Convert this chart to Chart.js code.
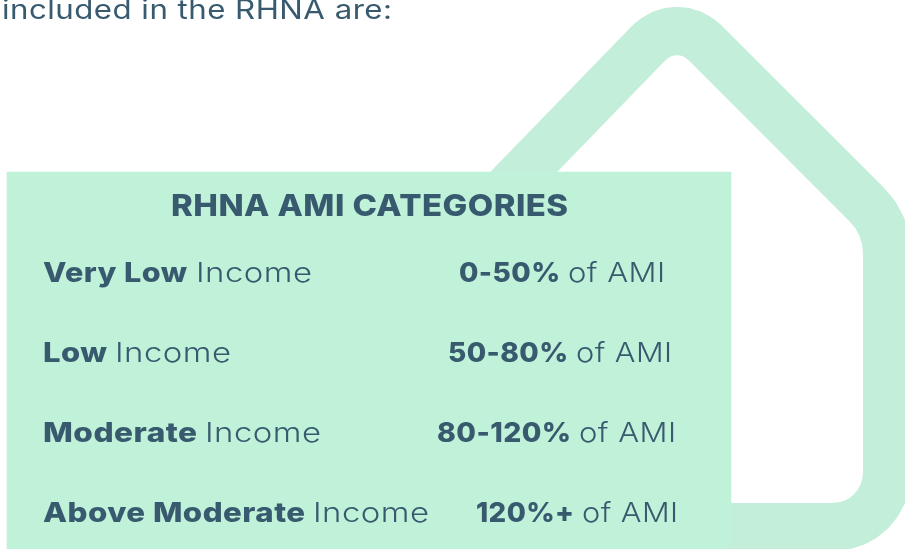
<!DOCTYPE html>
<html>
<head>
<meta charset="utf-8">
<title>RHNA AMI Categories</title>
<script src="https://cdn.jsdelivr.net/npm/chart.js@4"></script>
<style>
  html, body { margin: 0; padding: 0; background: #fff; overflow: hidden; }
  canvas { display: block; }
</style>
</head>
<body>
<canvas id="amiChart" width="905" height="549"></canvas>
<script>
// table contents
const introText = "included in the RHNA are:";
const tableTitle = "RHNA AMI CATEGORIES";
const incomeBold = ["Very Low", "Low", "Moderate", "Above Moderate"];
const incomeRest = ["Income", "Income", "Income", "Income"];
const amiBold = ["0-50%", "50-80%", "80-120%", "120%+"];
const amiRest = ["of AMI", "of AMI", "of AMI", "of AMI"];

// house outline
const houseX = [505, 649.4, 655.3, 662.1, 669.4, 677, 684.6, 691.9, 698.7, 704.6, 867.4, 875.7, 881.9, 885.7, 887, 887, 886, 882.9, 877.9, 871.2, 863, 853.7, 843.5, 833, 700];
const houseY = [191.3, 42.4, 37.6, 34, 31.75, 31, 31.75, 34, 37.6, 42.4, 205.2, 215.4, 227, 239.5, 252.6, 473, 483.5, 493.7, 503, 511.2, 518, 522.9, 526, 527, 527];

// panel behind the table
const panelX = [7, 731];
const panelY = [172, 549];

const textColor = "#385a6f";
const fontName = "Inter, 'Noto Sans', sans-serif";

// text runs go from x0 to x1, the letters get stretched to fit (source font is wider than Inter)
const rowBase = [282, 362, 442, 522];
const incomeBoldX = [[43, 186], [43, 106], [43, 196], [43, 304]];
const incomeRestX = [[196, 311], [115, 230], [205, 320], [313, 428]];
const amiBoldX = [[459, 559], [448, 567], [437, 570], [476, 573]];
const amiRestX = [[568, 664], [576, 671], [579, 675], [582, 677]];

function fitText(ctx, text, font, x0, x1, y) {
  ctx.font = font;
  ctx.letterSpacing = "0.4px";
  const w = ctx.measureText(text).width;
  ctx.save();
  ctx.translate(x0, y);
  // +1.5 because the measured width has side bearing and trailing spacing in it
  ctx.scale((x1 - x0 + 1.5) / w, 1);
  ctx.fillText(text, 0, 0);
  ctx.restore();
  ctx.letterSpacing = "0px";
}

const tableText = {
  id: "tableText",
  afterDatasetsDraw(chart) {
    const { ctx, scales: { x, y } } = chart;
    const bold = "800 27.5px " + fontName;
    const thin = "300 27.5px " + fontName;
    const put = (text, font, span, base) =>
      fitText(ctx, text, font, x.getPixelForValue(span[0]), x.getPixelForValue(span[1]), y.getPixelForValue(base));
    ctx.save();
    ctx.fillStyle = textColor;
    ctx.textAlign = "left";
    ctx.textBaseline = "alphabetic";
    put(introText, "400 26.5px " + fontName, [2, 391], 19);
    put(tableTitle, "800 30.5px " + fontName, [171, 567], 216);
    incomeBold.forEach((t, i) => {
      put(t, bold, incomeBoldX[i], rowBase[i]);
      put(incomeRest[i], thin, incomeRestX[i], rowBase[i]);
      put(amiBold[i], bold, amiBoldX[i], rowBase[i]);
      put(amiRest[i], thin, amiRestX[i], rowBase[i]);
    });
    ctx.restore();
  }
};

new Chart(document.getElementById("amiChart"), {
  type: "scatter",
  data: {
    datasets: [
      {
        type: "bar",
        indexAxis: "y",
        data: [{ x: panelX, y: (panelY[0] + panelY[1]) / 2 }],
        barThickness: panelY[1] - panelY[0],
        backgroundColor: "#c0f1d9",
        borderWidth: 0,
        order: 0
      },
      {
        type: "scatter",
        showLine: true,
        data: houseX.map((v, i) => ({ x: v, y: houseY[i] })),
        borderColor: "#c3eed9",
        borderWidth: 48,
        borderJoinStyle: "round",
        borderCapStyle: "butt",
        pointRadius: 0,
        order: 1
      }
    ]
  },
  options: {
    responsive: false,
    animation: false,
    layout: { padding: 0 },
    events: [],
    plugins: { legend: { display: false }, tooltip: { enabled: false } },
    scales: {
      x: { type: "linear", min: 0, max: 905, display: false, offset: false },
      y: { type: "linear", min: 0, max: 549, reverse: true, display: false, offset: false }
    }
  },
  plugins: [tableText]
});
</script>
</body>
</html>
